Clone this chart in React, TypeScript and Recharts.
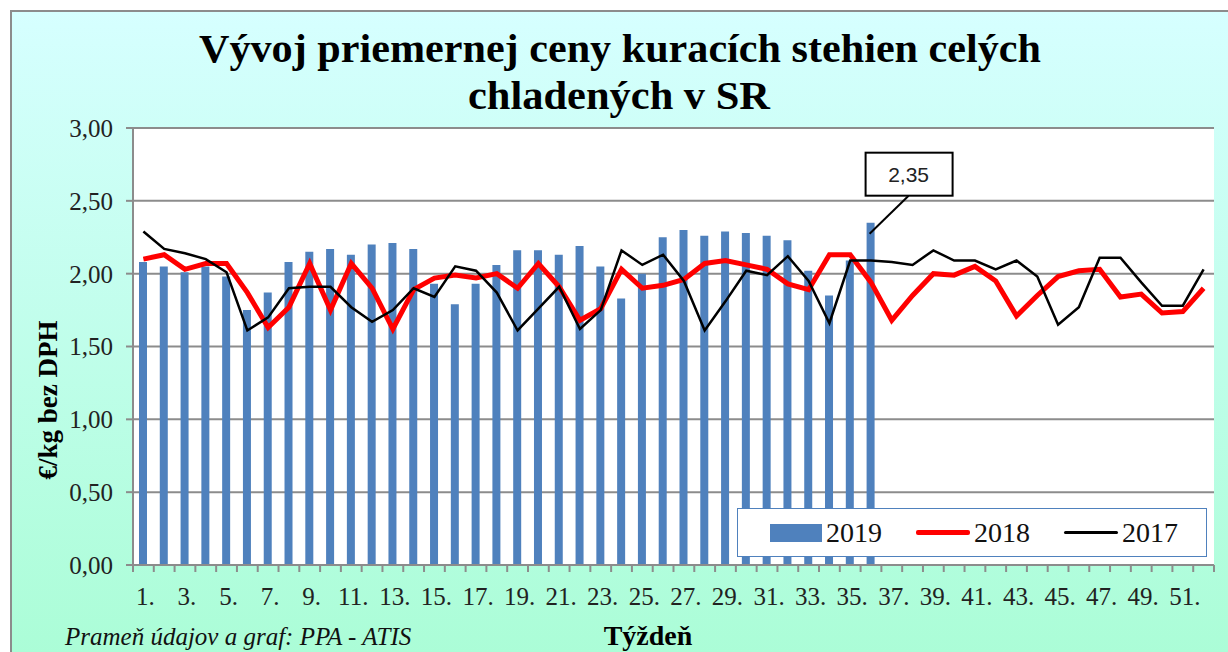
import React from "react"
import {
  Bar,
  CartesianGrid,
  ComposedChart,
  LabelList,
  Legend,
  Line,
  XAxis,
  YAxis,
} from "recharts"

const weeks = [
  "1.", "2.", "3.", "4.", "5.", "6.", "7.", "8.", "9.", "10.",
  "11.", "12.", "13.", "14.", "15.", "16.", "17.", "18.", "19.", "20.",
  "21.", "22.", "23.", "24.", "25.", "26.", "27.", "28.", "29.", "30.",
  "31.", "32.", "33.", "34.", "35.", "36.", "37.", "38.", "39.", "40.",
  "41.", "42.", "43.", "44.", "45.", "46.", "47.", "48.", "49.", "50.",
  "51.", "52.",
]

const price2019 = [
  2.08, 2.05, 2.01, 2.05, 1.98, 1.75, 1.87, 2.08, 2.15, 2.17,
  2.13, 2.2, 2.21, 2.17, 1.93, 1.79, 1.93, 2.06, 2.16, 2.16,
  2.13, 2.19, 2.05, 1.83, 2.0, 2.25, 2.3, 2.26, 2.29, 2.28,
  2.26, 2.23, 2.02, 1.85, 2.09, 2.35,
]

const price2018 = [
  2.1, 2.13, 2.03, 2.07, 2.07, 1.87, 1.63, 1.77, 2.07, 1.75,
  2.07, 1.9, 1.62, 1.89, 1.97, 1.99, 1.97, 2.0, 1.9, 2.07,
  1.91, 1.68, 1.76, 2.03, 1.9, 1.92, 1.96, 2.07, 2.09, 2.06,
  2.03, 1.93, 1.89, 2.13, 2.13, 1.94, 1.68, 1.85, 2.0, 1.99,
  2.05, 1.95, 1.71, 1.85, 1.98, 2.02, 2.03, 1.84, 1.86, 1.73,
  1.74, 1.9,
]

const price2017 = [
  2.29, 2.17, 2.14, 2.1, 2.01, 1.61, 1.7, 1.9, 1.91, 1.91,
  1.77, 1.67, 1.75, 1.9, 1.84, 2.05, 2.02, 1.87, 1.61, 1.76,
  1.91, 1.62, 1.75, 2.16, 2.06, 2.13, 1.95, 1.61, 1.81, 2.02,
  1.99, 2.12, 1.95, 1.66, 2.09, 2.09, 2.08, 2.06, 2.16, 2.09,
  2.09, 2.03, 2.09, 1.98, 1.65, 1.77, 2.11, 2.11, 1.94, 1.78,
  1.78, 2.03,
]

const yTicks = [0, 0.5, 1, 1.5, 2, 2.5, 3]
const legendOrder = ["2019", "2018", "2017"]

const data = weeks.map((week, i) => ({
  week,
  y2019: price2019[i],
  y2018: price2018[i],
  y2017: price2017[i],
}))

const W = 1228
const H = 652
const MARGIN = { top: 128, right: 14, bottom: 47, left: 0 }
const Y_AXIS_W = 133
const X_AXIS_H = 40
const PLOT_W = W - MARGIN.left - MARGIN.right - Y_AXIS_W
const BAND = PLOT_W / weeks.length

const SERIF = "'Liberation Serif', 'Times New Roman', serif"
const AXIS_GRAY = "#8c8c8c"
const BLUE = "#4f81bd"
const RED = "#ff0000"
const BLACK = "#000000"

const fmt = (v: number) => v.toFixed(2).replace(".", ",")

function WeekTick(props: any) {
  const { x, y, payload, index } = props
  const last = index === weeks.length - 1
  return (
    <g>
      <line x1={x - BAND / 2} x2={x - BAND / 2} y1={y} y2={y + 7} stroke={AXIS_GRAY} strokeWidth={2} />
      {last && <line x1={x + BAND / 2} x2={x + BAND / 2} y1={y} y2={y + 7} stroke={AXIS_GRAY} strokeWidth={2} />}
      {index % 2 === 0 && (
        <text x={x + 2} y={y + 40} textAnchor="middle" fontFamily={SERIF} fontSize={25} fill="#222">
          {payload.value}
        </text>
      )}
    </g>
  )
}

// callout box above the last 2019 bar
function Callout(props: any) {
  const { x, y, width, index } = props
  if (index !== price2019.length - 1) return null
  const cx = x + width / 2
  return (
    <g>
      <line x1={cx + 38} y1={y - 27} x2={cx - 1} y2={y + 11} stroke="#000" strokeWidth={2} />
      <rect x={cx - 5} y={y - 70} width={87} height={43} fill="#fff" stroke="#000" strokeWidth={2} />
      <text x={cx + 38} y={y - 41} textAnchor="middle" fontFamily="'Liberation Sans', Arial, sans-serif" fontSize={21} fill="#222">
        {fmt(price2019[index])}
      </text>
    </g>
  )
}

function LegendBox(props: any) {
  const items = [...(props.payload || [])].sort(
    (a: any, b: any) => legendOrder.indexOf(a.value) - legendOrder.indexOf(b.value)
  )
  return (
    <div
      style={{
        width: 470,
        height: 49,
        boxSizing: "border-box",
        border: `1.5px solid ${BLUE}`,
        background: "#fff",
        display: "flex",
        alignItems: "center",
        paddingLeft: 32,
        fontFamily: SERIF,
        fontSize: 28,
        color: "#111",
      }}
    >
      {items.map((it: any) => {
        const isBar = it.type === "rect"
        const thick = it.color === RED ? 5 : 3
        return (
          <div key={it.value} style={{ display: "flex", alignItems: "center", marginRight: 34 }}>
            {isBar ? (
              <div style={{ width: 52, height: 18, background: it.color, marginRight: 4 }} />
            ) : (
              <div style={{ width: 54, height: thick, background: it.color, borderRadius: 2, marginRight: 4 }} />
            )}
            <span>{it.value}</span>
          </div>
        )
      })}
    </div>
  )
}

export default function App() {
  return (
    <div style={{ position: "absolute", left: 0, top: 0, width: W, height: H, overflow: "hidden", background: "#fff" }}>
      <div
        style={{
          position: "absolute",
          left: 10,
          top: 10,
          width: W + 20,
          height: H + 20,
          border: `2.5px solid ${AXIS_GRAY}`,
          background: "linear-gradient(#d6ffff, #a9fdd5)",
        }}
      />
      <div style={{ position: "absolute", left: 0, top: 0 }}>
        <ComposedChart width={W} height={H} data={data} margin={MARGIN}>
          <CartesianGrid horizontal vertical={false} stroke={AXIS_GRAY} strokeWidth={2} fill="#fff" />
          <XAxis
            dataKey="week"
            height={X_AXIS_H}
            interval={0}
            tickSize={0}
            tickMargin={0}
            tickLine={false}
            axisLine={{ stroke: AXIS_GRAY, strokeWidth: 2 }}
            tick={<WeekTick />}
          />
          <YAxis
            width={Y_AXIS_W}
            domain={[0, 3]}
            ticks={yTicks}
            tickFormatter={fmt}
            tickSize={7}
            tickMargin={13}
            axisLine={{ stroke: AXIS_GRAY, strokeWidth: 2 }}
            tickLine={{ stroke: AXIS_GRAY, strokeWidth: 2 }}
            tick={{ fontFamily: SERIF, fontSize: 25, fill: "#222" }}
          />
          <Legend
            layout="horizontal"
            verticalAlign="middle"
            align="center"
            wrapperStyle={{ position: "absolute", left: 737, top: 508, width: 470, height: 49 }}
            content={<LegendBox />}
          />
          <Bar dataKey="y2019" name="2019" fill={BLUE} barSize={8} isAnimationActive={false}>
            <LabelList dataKey="y2019" content={<Callout />} />
          </Bar>
          <Line
            dataKey="y2018"
            name="2018"
            stroke={RED}
            strokeWidth={5}
            dot={false}
            isAnimationActive={false}
          />
          <Line
            dataKey="y2017"
            name="2017"
            stroke={BLACK}
            strokeWidth={2.5}
            dot={false}
            isAnimationActive={false}
          />
        </ComposedChart>
      </div>
      <svg width={W} height={H} style={{ position: "absolute", left: 0, top: 0, pointerEvents: "none" }}>
        <text x={620} y={62} textAnchor="middle" fontFamily={SERIF} fontWeight="bold" fontSize={40} fill="#000"
          textLength={842} lengthAdjust="spacingAndGlyphs">
          Vývoj priemernej ceny kuracích stehien celých
        </text>
        <text x={619} y={109} textAnchor="middle" fontFamily={SERIF} fontWeight="bold" fontSize={40} fill="#000"
          textLength={302} lengthAdjust="spacingAndGlyphs">
          chladených v SR
        </text>
        <text x={57} y={400} transform="rotate(-90 57 400)" textAnchor="middle" fontFamily={SERIF}
          fontWeight="bold" fontSize={27} fill="#000">
          €/kg bez DPH
        </text>
        <text x={65} y={645} fontFamily={SERIF} fontStyle="italic" fontSize={25} fill="#111">
          Prameň údajov a graf: PPA  - ATIS
        </text>
        <text x={648} y={645} textAnchor="middle" fontFamily={SERIF} fontWeight="bold" fontSize={28} fill="#000">
          Týždeň
        </text>
      </svg>
    </div>
  )
}
